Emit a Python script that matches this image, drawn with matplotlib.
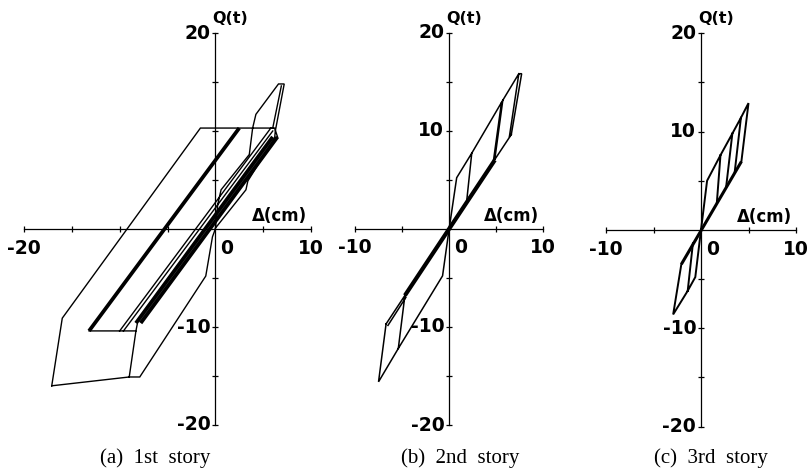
import numpy as np
import matplotlib
matplotlib.use("Agg")
import matplotlib.pyplot as plt

nan = np.nan

# ---------------- data ----------------
# (a) 1st story : thin polylines (nan = pen up)
a_thin_x = [-17.1, -16.0, -1.56, 6.2, 6.5, nan,
            -17.1, -9.0, -7.9, -1.0, -0.3, 0.0, nan,
            -9.0, -8.3, -13.2, nan,
            -8.3, -8.1, nan,
            -10.0, 5.8, nan,
            -9.6, 6.0, nan,
            0.0, 0.25, 0.6, 3.55, 3.9, 4.24, 6.6, 7.2, 6.27, 6.2, 3.4, 3.2, 0.1, nan,
            6.9, 6.0]
a_thin_y = [-16.0, -9.1, 10.3, 10.3, 9.4, nan,
            -16.0, -15.1, -15.1, -4.8, -0.8, 0.0, nan,
            -15.1, -10.4, -10.4, nan,
            -10.4, -9.4, nan,
            -10.4, 10.3, nan,
            -10.4, 10.0, nan,
            0.0, 2.5, 4.0, 7.6, 10.3, 11.7, 14.8, 14.8, 10.0, 9.3, 4.9, 4.0, 0.2, nan,
            14.6, 10.3]
# (a) heavy (repeated) branches
a_thick_x = [-13.2, 2.5, nan, -8.3, 6.0, nan, -7.8, 6.5]
a_thick_y = [-10.4, 10.3, nan, -9.6, 9.4, nan, -9.6, 9.4]

# (b) 2nd story
b_thin_x = [0.0, 0.8, 2.4, 5.7, 7.4, 7.7, 6.6, nan,
            7.4, 6.4, nan,
            2.4, 1.85, nan,
            5.7, 4.85, nan,
            5.55, 4.7, nan,
            0.0, -0.7, -5.4, -7.5, -6.7, nan,
            -5.4, -4.7, nan,
            -6.7, 6.6, nan,
            -6.5, -4.6]
b_thin_y = [0.0, 5.2, 7.7, 13.1, 15.8, 15.8, 9.6, nan,
            15.8, 9.4, nan,
            7.7, 2.7, nan,
            13.1, 7.1, nan,
            12.8, 6.9, nan,
            0.0, -4.8, -12.2, -15.6, -9.7, nan,
            -12.2, -6.8, nan,
            -9.7, 9.6, nan,
            -9.85, -7.0]
b_thick_x = [-4.7, 4.85]
b_thick_y = [-6.8, 7.0]

# (c) 3rd story
c_thin_x = [0.0, 0.64, 2.05, 3.3, 4.2, 5.0, 4.25, nan,
            2.05, 1.67, nan,
            3.3, 2.65, nan,
            4.2, 3.55, nan,
            0.0, -0.6, -1.4, -2.93, -2.07, nan,
            -1.4, -0.85]
c_thin_y = [0.0, 5.0, 7.6, 9.8, 11.4, 12.9, 6.95, nan,
            7.6, 2.8, nan,
            9.8, 4.4, nan,
            11.4, 5.9, nan,
            0.0, -4.8, -6.2, -8.6, -3.5, nan,
            -6.2, -1.35]
c_thick_x = [-2.07, 4.25]
c_thick_y = [-3.5, 6.95]

# axis ranges and labels
a_xlim, b_xlim, c_xlim = (-20, 10), (-10, 10), (-10, 10)
ylim = (-20, 20)
a_xlabels = {-20: "-20", 0: "0", 10: "10"}
b_xlabels = {-10: "-10", 0: "0", 10: "10"}
c_xlabels = {-10: "-10", 0: "0", 10: "10"}
a_ylabels = {20: "20", -10: "-10", -20: "-20"}
b_ylabels = {20: "20", 10: "10", -10: "-10", -20: "-20"}
c_ylabels = {20: "20", 10: "10", -10: "-10", -20: "-20"}
captions = ["(a)  1st  story", "(b)  2nd  story", "(c)  3rd  story"]

# ---------------- drawing ----------------
fig = plt.figure(figsize=(8.11, 4.76), dpi=100)
fig.patch.set_facecolor("white")

W, H = 811.0, 476.0
boxes = [(24, 311, 425, 33), (355, 543.3, 425, 32.5), (606, 796, 426.5, 33.3)]
panels = [
    (a_thin_x, a_thin_y, a_thick_x, a_thick_y, a_xlim, a_xlabels, a_ylabels, 1.0, 2.7),
    (b_thin_x, b_thin_y, b_thick_x, b_thick_y, b_xlim, b_xlabels, b_ylabels, 1.1, 3.0),
    (c_thin_x, c_thin_y, c_thick_x, c_thick_y, c_xlim, c_xlabels, c_ylabels, 1.4, 2.2),
]
cap_x = [155, 460, 711]

tickfont = dict(family="DejaVu Sans", weight="bold", size=13.5, color="black")

for (x0, x1, yb, yt), (tx, ty, kx, ky, xl, xlab, ylab, tlw, klw), cx, cap in zip(
        boxes, panels, cap_x, captions):
    ax = fig.add_axes([x0 / W, 1 - yb / H, (x1 - x0) / W, (yb - yt) / H])
    ax.set_xlim(*xl)
    ax.set_ylim(*ylim)
    ax.patch.set_alpha(0)
    for s in ("top", "right"):
        ax.spines[s].set_visible(False)
    ax.spines["left"].set_position("zero")
    ax.spines["bottom"].set_position("zero")
    ax.spines["left"].set_linewidth(0.9)
    ax.spines["bottom"].set_linewidth(0.9)
    ax.set_xticks([v for v in range(xl[0], xl[1] + 1, 5) if v != 0])
    ax.set_yticks([v for v in range(-20, 21, 5) if v != 0])
    ax.set_xticklabels([])
    ax.set_yticklabels([])
    ax.tick_params(direction="inout", length=5, width=0.9, colors="black")

    ax.plot(np.array(tx, float), np.array(ty, float), color="black", lw=tlw,
            solid_joinstyle="miter", clip_on=False)
    ax.plot(np.array(kx, float), np.array(ky, float), color="black", lw=klw,
            solid_capstyle="butt", clip_on=False)

    # tick labels (offsets in points from the tick position)
    for v, s in xlab.items():
        if v == 0:
            ax.annotate(s, (0, 0), xytext=(3.5, -7), textcoords="offset points",
                        ha="left", va="top", **tickfont)
        else:
            ax.annotate(s, (v, 0), xytext=(0, -7), textcoords="offset points",
                        ha="center", va="top", **tickfont)
    for v, s in ylab.items():
        ax.annotate(s, (0, v), xytext=(-3.5, 0), textcoords="offset points",
                    ha="right", va="center", **tickfont)
    ax.annotate("Q(t)", (0, 20), xytext=(-2, 5), textcoords="offset points",
                ha="left", va="bottom", family="DejaVu Sans", weight="bold", size=11.5)
    ax.annotate("Δ(cm)", (xl[1], 0), xytext=(-3, 3), textcoords="offset points",
                ha="right", va="bottom", family="DejaVu Sans", weight="bold", size=12)

    fig.text(cx / W, 1 - 458 / H, cap, ha="center", va="center",
             family="Liberation Serif", size=15)

fig.savefig("out.png", dpi=100, facecolor="white")
